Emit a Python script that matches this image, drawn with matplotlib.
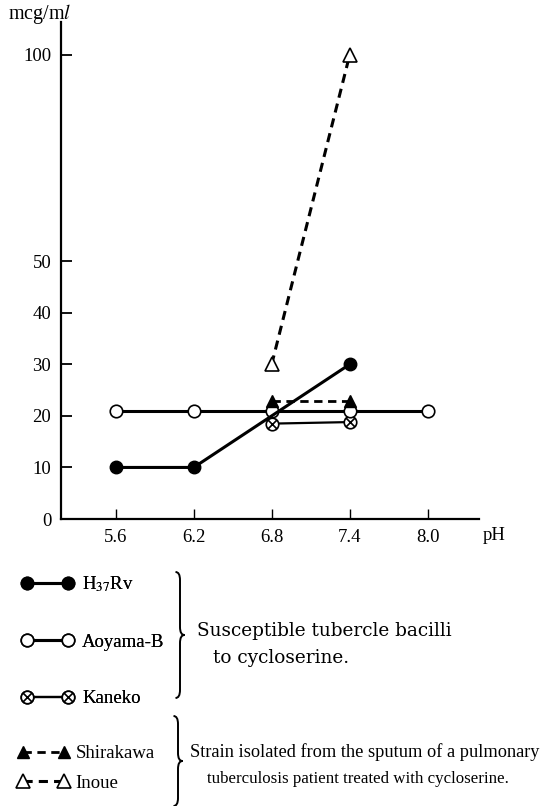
import numpy as np
import matplotlib
matplotlib.use("Agg")
import matplotlib.pyplot as plt
from matplotlib.path import Path
from matplotlib.patches import PathPatch

plt.rcParams['font.family'] = ['Liberation Serif', 'DejaVu Serif']
plt.rcParams['mathtext.fontset'] = 'stix'

# ---- data ----
ph_ticks = [5.6, 6.2, 6.8, 7.4, 8.0]
ph_labels = ["5.6", "6.2", "6.8", "7.4", "8.0"]
y_ticks = [0, 10, 20, 30, 40, 50, 100]

h37rv_ph = [5.6, 6.2, 6.8, 7.4]
h37rv_val = [10, 10, 20, 30]
aoyama_ph = [5.6, 6.2, 6.8, 7.4, 8.0]
aoyama_val = [21, 21, 21, 21, 21]
kaneko_ph = [6.8, 7.4]
kaneko_val = [18.5, 18.8]
shirakawa_ph = [6.8, 7.4]
shirakawa_val = [22.8, 22.8]
inoue_ph = [6.8, 7.4]
inoue_val = [30, 100]

W, H = 543, 806
fig = plt.figure(figsize=(W / 100, H / 100), dpi=100)

def px(x0, y0, x1, y1):
    return [x0 / W, 1 - y1 / H, (x1 - x0) / W, (y1 - y0) / H]

ax = fig.add_axes(px(61, 22, 479, 519))

def fwd(v):
    v = np.asarray(v, dtype=float)
    return np.where(v <= 50, v, 50 + (v - 50) * 0.8)

def inv(u):
    u = np.asarray(u, dtype=float)
    return np.where(u <= 50, u, 50 + (u - 50) / 0.8)

ax.set_yscale('function', functions=(fwd, inv))

# circle with X marker
circ = Path.unit_circle()
d = np.sqrt(0.5)
verts = list(circ.vertices) + [(-d, -d), (d, d), (-d, d), (d, -d)]
codes = list(circ.codes) + [Path.MOVETO, Path.LINETO, Path.MOVETO, Path.LINETO]
otimes = Path(verts, codes)

ms = 9
l1, = ax.plot(aoyama_ph, aoyama_val, '-', color='black', lw=2.2, marker='o',
              ms=ms, mfc='white', mec='black', mew=1.2, zorder=3,
              label='Aoyama-B')
l0, = ax.plot(h37rv_ph, h37rv_val, '-', color='black', lw=2.2, marker='o',
              ms=ms, mfc='black', mec='black', zorder=4, label=r'H$_{37}$Rv',
              markevery=[0, 1, 3])
l2, = ax.plot(kaneko_ph, kaneko_val, '-', color='black', lw=1.6, marker=otimes,
              ms=ms, mfc='white', mec='black', mew=1.2, zorder=2, label='Kaneko')
l3, = ax.plot(shirakawa_ph, shirakawa_val, '--', color='black', lw=2.0,
              marker='^', ms=ms, mfc='black', mec='black', zorder=3,
              dashes=(3, 2), label='Shirakawa')
l4, = ax.plot(inoue_ph, inoue_val, '--', color='black', lw=2.2, marker='^',
              ms=ms + 1, mfc='white', mec='black', mew=1.2, zorder=3,
              dashes=(3, 2), label='Inoue')

ax.set_xlim(5.179, 8.395)
ax.set_ylim(0, 108)
ax.set_xticks(ph_ticks)
ax.set_xticklabels(ph_labels)
ax.set_yticks(y_ticks)
ax.set_yticklabels([str(t) for t in y_ticks])
ax.minorticks_off()
for s in ['top', 'right']:
    ax.spines[s].set_visible(False)
for s in ['left', 'bottom']:
    ax.spines[s].set_linewidth(1.6)
ax.tick_params(axis='y', direction='in', length=8, width=1.3, pad=7,
               labelsize=13.5)
ax.tick_params(axis='x', direction='in', length=7, width=1.0, pad=7,
               labelsize=13.5)

fig.text(483 / W, 1 - 535 / H, 'pH', fontsize=13.5, va='center', ha='left')
fig.text(8 / W, 1 - 14 / H, r'mcg/m$\mathit{l}$', fontsize=14.5, va='center',
         ha='left')

# legends
fs = 13.5
leg1 = fig.legend(handles=[l0, l1, l2], loc='upper left',
                  bbox_to_anchor=(12 / W, 1 - 565 / H), frameon=False,
                  numpoints=2, fontsize=fs, handlelength=2.8,
                  handletextpad=0.45, labelspacing=2.1, borderpad=0)
leg2 = fig.legend(handles=[l3, l4], loc='upper left',
                  bbox_to_anchor=(8 / W, 1 - 736 / H), frameon=False,
                  numpoints=2, fontsize=fs, handlelength=2.8,
                  handletextpad=0.3, labelspacing=0.65, borderpad=0)
fig.add_artist(leg1)

# overlay for braces and annotation text
ov = fig.add_axes([0, 0, 1, 1])
ov.set_xlim(0, W)
ov.set_ylim(H, 0)
ov.axis('off')

def brace(x, y0, y1, w=9):
    ym = (y0 + y1) / 2
    v = [(x - w / 2, y0), (x, y0), (x, y0 + 8), (x, ym - 8),
         (x, ym), (x + w / 2, ym),
         (x, ym), (x, ym + 8), (x, y1 - 8),
         (x, y1), (x - w / 2, y1)]
    c = [Path.MOVETO, Path.CURVE3, Path.CURVE3, Path.LINETO,
         Path.CURVE3, Path.CURVE3,
         Path.CURVE3, Path.CURVE3, Path.LINETO,
         Path.CURVE3, Path.CURVE3]
    ov.add_patch(PathPatch(Path(v, c), fill=False, lw=1.4, color='black'))

brace(180, 572, 698)
brace(178, 716, 806)

renderer = fig.canvas.get_renderer()

def fitted_text(x, y, s, width, base=13.5):
    t = ov.text(x, y, s, fontsize=base, va='center', ha='left',
                family=['Liberation Serif'])
    w = t.get_window_extent(renderer).width
    t.set_fontsize(base * width / w)
    return t

ov.text(197, 631, 'Susceptible tubercle bacilli', fontsize=13.3,
        va='center', ha='left', family=['DejaVu Serif'])
ov.text(213, 658, 'to cycloserine.', fontsize=13.3, va='center', ha='left',
        family=['DejaVu Serif'])
fitted_text(190, 752, 'Strain isolated from the sputum of a pulmonary', 350)
fitted_text(207, 779, 'tuberculosis patient treated with cycloserine.', 303)

fig.savefig('out.png', dpi=100)
